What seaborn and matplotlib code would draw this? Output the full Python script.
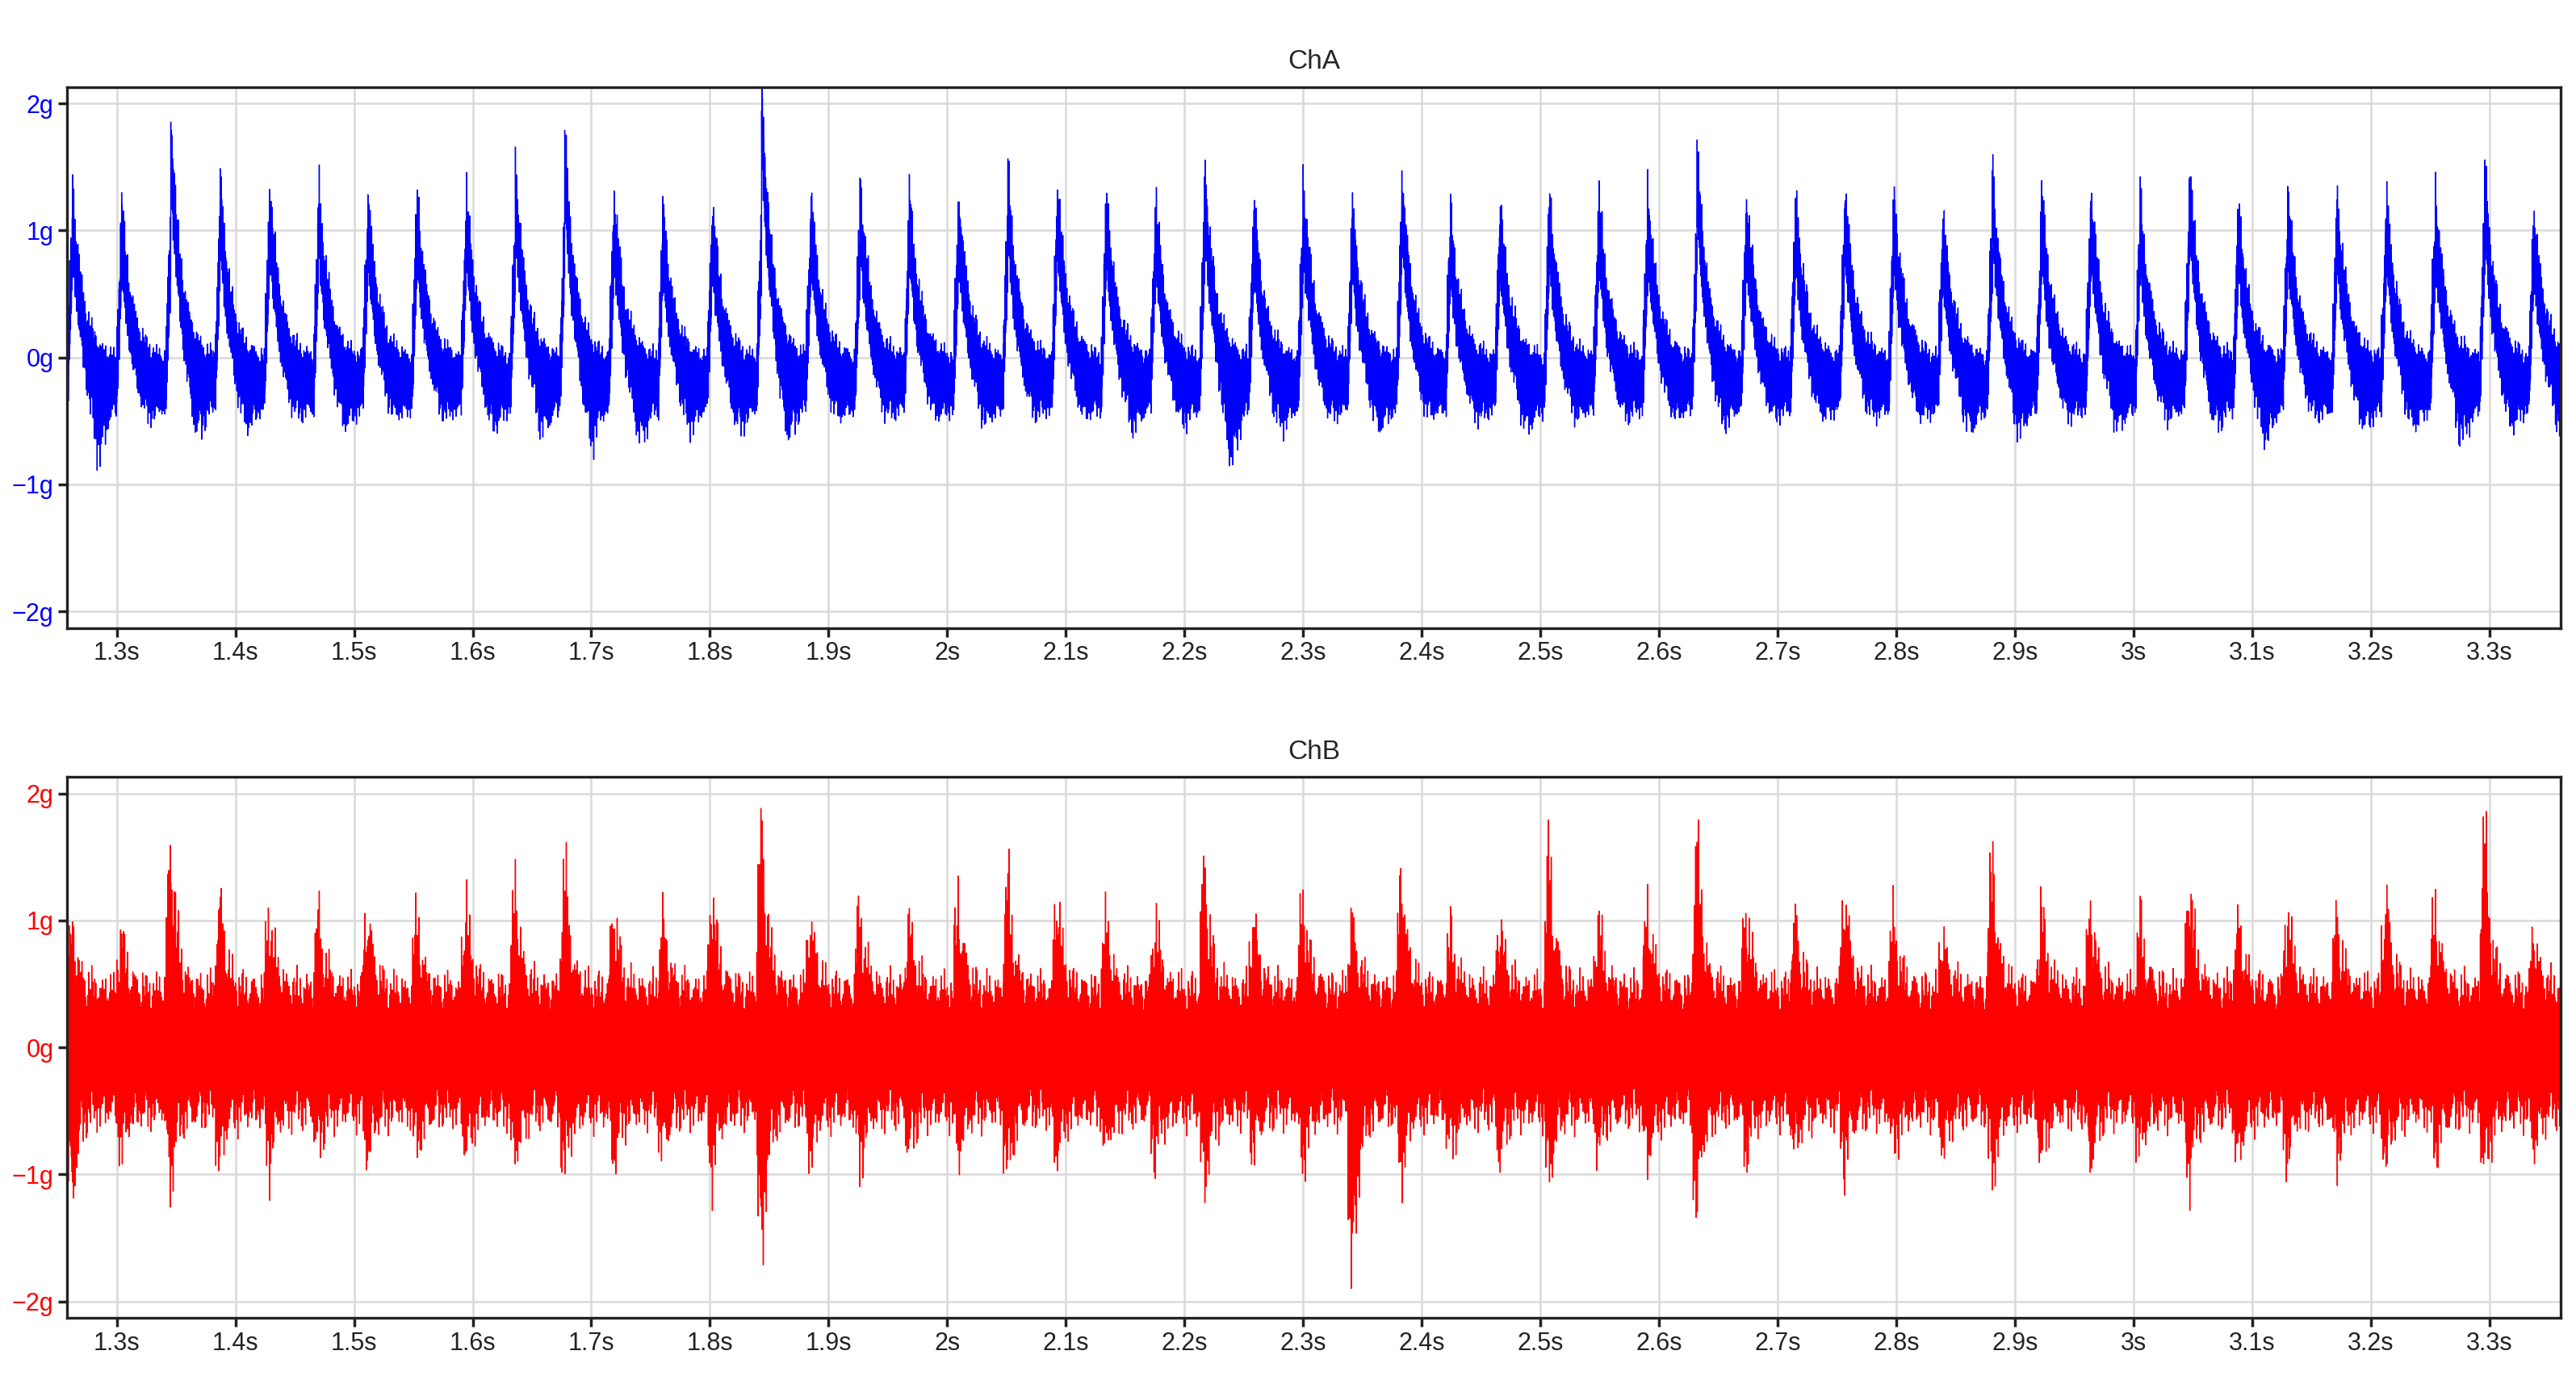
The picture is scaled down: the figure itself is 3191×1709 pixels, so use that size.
import numpy as np
import matplotlib
matplotlib.use("Agg")
import matplotlib.pyplot as plt
import seaborn as sns

sns.set_theme(style="whitegrid")
plt.rcParams['font.family'] = ['Liberation Sans Narrow', 'Liberation Sans', 'DejaVu Sans']

# ---- data ----
first_peak_s = 1.2625
period_s = 0.0415
chA_peaks = [1.35, 1.2, 1.9, 1.4, 1.4, 1.4, 1.3, 1.3, 1.3, 1.5, 1.75, 1.3, 1.15, 1.2, 2.15, 1.3, 1.4, 1.3, 1.3, 1.45, 1.4, 1.3, 1.25, 1.5, 1.2, 1.4, 1.2, 1.5, 1.1, 1.2, 1.3, 1.3, 1.3, 1.65, 1.3, 1.3, 1.35, 1.3, 1.1, 1.5, 1.3, 1.35, 1.25, 1.55, 1.2, 1.3, 1.3, 1.3, 1.3, 1.5, 1.15]
chA_troughs = [-0.95, -0.6, -0.8, -0.7, -0.6, -0.7, -0.6, -0.6, -0.7, -0.75, -0.85, -0.8, -0.7, -0.7, -0.85, -0.6, -0.6, -0.6, -0.65, -0.6, -0.6, -0.7, -0.65, -1.0, -0.7, -0.6, -0.7, -0.6, -0.6, -0.7, -0.6, -0.6, -0.6, -0.7, -0.6, -0.6, -0.6, -0.6, -0.7, -0.75, -0.6, -0.7, -0.6, -0.7, -0.8, -0.6, -0.7, -0.7, -0.8, -0.7, -0.7]
chB_peaks = [0.95, 0.9, 1.7, 1.2, 1.1, 1.05, 1.1, 1.0, 1.1, 1.25, 1.4, 1.1, 1.0, 1.25, 1.85, 1.05, 1.1, 1.0, 1.15, 1.3, 1.2, 1.0, 1.0, 1.45, 1.0, 1.2, 1.05, 1.45, 0.9, 1.0, 1.55, 1.0, 1.1, 1.7, 1.1, 1.0, 1.25, 1.0, 0.9, 1.5, 1.1, 1.1, 1.0, 1.35, 1.0, 1.1, 1.05, 1.2, 1.1, 1.7, 0.9]
chB_troughs = [-1.2, -0.8, -1.05, -0.9, -0.9, -0.8, -0.85, -0.8, -0.85, -0.9, -0.95, -0.9, -0.8, -0.95, -1.65, -0.85, -0.9, -0.8, -0.85, -1.0, -0.9, -0.8, -0.85, -1.1, -0.8, -0.9, -1.85, -1.0, -0.8, -0.85, -1.05, -0.8, -0.9, -1.25, -0.85, -0.8, -0.9, -0.8, -0.8, -1.05, -0.85, -0.9, -0.8, -1.0, -0.9, -0.85, -0.9, -0.9, -0.85, -1.0, -0.8]
x_ticks = [1.3, 1.4, 1.5, 1.6, 1.7, 1.8, 1.9, 2.0, 2.1, 2.2, 2.3, 2.4, 2.5, 2.6, 2.7, 2.8, 2.9, 3.0, 3.1, 3.2, 3.3]
x_labels = ["1.3s", "1.4s", "1.5s", "1.6s", "1.7s", "1.8s", "1.9s", "2s", "2.1s", "2.2s", "2.3s", "2.4s", "2.5s", "2.6s", "2.7s", "2.8s", "2.9s", "3s", "3.1s", "3.2s", "3.3s"]
y_ticks = [-2, -1, 0, 1, 2]
y_labels = ["\u22122g", "\u22121g", "0g", "1g", "2g"]

# ---- waveform assembly from the per-cycle values ----
t = np.linspace(1.258, 3.36, 60000)
k = np.clip(np.floor((t - first_peak_s + 0.004) / period_s).astype(int), 0, len(chA_peaks) - 1)
tp = t - (first_peak_s + k * period_s)
tp = np.where(tp < -0.004, tp + period_s, tp)
texture = (np.sin(2*np.pi*2310*t) + 0.7*np.sin(2*np.pi*3170*t + 1.3)
           + 0.5*np.sin(2*np.pi*4730*t + 0.4) + 0.4*np.sin(2*np.pi*1190*t + 2.1)) / 2.6
texture = texture / 0.85

pA = np.array(chA_peaks)[k]; trA = np.array(chA_troughs)[k]
envA = np.exp(-np.clip(tp, 0, None) / 0.009)
rise = np.clip((tp + 0.004) / 0.004, 0, 1)
baseA = np.where(tp < 0, -0.25 + 1.0 * rise, -0.22 + (pA - 0.35 + 0.22) * envA)
upA = 0.25 + 0.3 * envA
midw = np.exp(-((tp - 0.022) / 0.008) ** 2)
downA = 0.25 + (-0.22 - trA - 0.25) * midw
yA = np.where(texture > 0, baseA + upA * texture, baseA + downA * texture)

pB = np.array(chB_peaks)[k]; trB = np.array(chB_troughs)[k]
envB = np.exp(-np.abs(tp) / 0.005)
upB = 0.55 + (1.2 * pB - 0.55) * envB
downB = 0.6 + (-1.2 * trB - 0.6) * envB
yB = np.where(texture > 0, upB * texture, downB * texture)

fig = plt.figure(figsize=(15.955, 8.545), dpi=200)
axA = fig.add_axes([0.026, 0.545, 0.968, 0.392])
axB = fig.add_axes([0.026, 0.045, 0.968, 0.392])
for ax, y, col, title in [(axA, yA, "#0000ff", "ChA"), (axB, yB, "#ff0000", "ChB")]:
    sns.lineplot(x=t, y=y, ax=ax, color=col, linewidth=0.5, estimator=None, sort=False)
    ax.set_xlim(1.258, 3.36)
    ax.set_ylim(-2.13, 2.13)
    ax.set_xticks(x_ticks); ax.set_xticklabels(x_labels, fontsize=11, color="#222222")
    ax.set_yticks(y_ticks); ax.set_yticklabels(y_labels, fontsize=11, color=col)
    ax.set_title(title, fontsize=12, pad=8)
    ax.grid(True, color="#d9d9d9", linewidth=0.9)
    ax.set_facecolor("white")
    for s in ax.spines.values():
        s.set_visible(True); s.set_color("#222222"); s.set_linewidth(1.2)
    ax.tick_params(axis="both", length=4, pad=2, color="#222222", bottom=True, left=True)
fig.savefig("out.png", dpi=200)
